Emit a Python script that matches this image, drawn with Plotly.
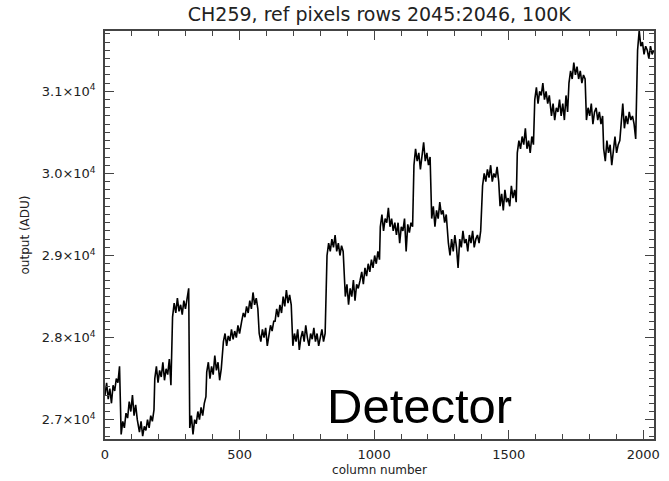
import numpy as np
import plotly.graph_objects as go

# Column readings: each segment = (start column, values sampled every STEP columns)
STEP = 6
seg_starts = [0, 60, 122, 185, 251, 315, 378, 440, 508, 573, 632, 698, 825, 893, 948,
              1023, 1083, 1148, 1214, 1276, 1403, 1468, 1532, 1597, 1659, 1724, 1789,
              1853, 1918, 1979]
seg_values = [
    [27300, 27450, 27250, 27380, 27200, 27420, 27350, 27500, 27450, 27650],
    [26820, 26980, 26900, 27080, 27020, 27220, 27100, 27300, 27050, 27180, 27000],
    [26950, 26850, 26980, 26800, 26920, 26870, 27000, 26900, 27050, 26980, 27120],
    [27500, 27650, 27450, 27600, 27520, 27700, 27480, 27620, 27550, 27740, 27420],
    [28250, 28420, 28300, 28480, 28320, 28400, 28280, 28450, 28350, 28500, 28600],
    [26900, 27050, 26820, 27000, 26950, 27100, 27000, 27150, 27050, 27200, 27280],
    [27580, 27700, 27500, 27650, 27550, 27780, 27600, 27700, 27480, 27620],
    [27950, 28050, 27900, 28020, 27960, 28100, 27980, 28080, 28000, 28150, 28050],
    [28200, 28300, 28250, 28380, 28300, 28450, 28350, 28550, 28400, 28480, 28350],
    [28050, 27950, 28100, 28000, 28120, 27900, 28050, 28150, 28080, 28200],
    [28200, 28350, 28250, 28400, 28300, 28500, 28380, 28580, 28420, 28520, 28400],
    [27900, 28050, 27950, 28100, 27850, 28000, 28080, 27950, 28150, 28000, 27900,
     28050, 27980, 28120, 27950, 28050, 27900, 28000, 28100, 27950, 28050],
    [29000, 29150, 29050, 29200, 29100, 29250, 29050, 29150, 29000, 29120, 29050],
    [28500, 28650, 28400, 28600, 28500, 28700, 28450, 28650, 28600],
    [28700, 28800, 28650, 28850, 28750, 28900, 28800, 28950, 28850, 29000, 28900, 29050, 28950],
    [29350, 29500, 29300, 29450, 29400, 29580, 29350, 29450, 29300, 29400],
    [29250, 29400, 29150, 29350, 29300, 29450, 29050, 29380, 29280, 29400, 29350],
    [30100, 30300, 30150, 30250, 30050, 30200, 30380, 30150, 30250, 30100, 30200],
    [29450, 29600, 29350, 29550, 29450, 29650, 29500, 29550, 29400, 29500],
    [29150, 29000, 29200, 29050, 29250, 29100, 28850, 29200, 29100, 29300, 29150,
     29200, 29050, 29250, 29150, 29300, 29100, 29200, 29250, 29150, 29300],
    [29850, 30000, 29900, 30050, 29950, 30100, 29900, 30000, 29950, 30080, 29900],
    [29600, 29750, 29550, 29800, 29650, 29700, 29600, 29850, 29700, 29800, 29650],
    [30250, 30400, 30300, 30450, 30350, 30550, 30300, 30400, 30250, 30450, 30350],
    [30900, 31050, 30850, 31000, 30950, 31100, 30900, 31000, 30850, 30950],
    [30700, 30850, 30650, 30800, 30750, 30900, 30700, 30850, 30650, 30950, 30750],
    [31100, 31250, 31150, 31350, 31200, 31300, 31150, 31250, 31100, 31200, 31150],
    [30650, 30800, 30700, 30850, 30600, 30750, 30800, 30650, 30750, 30600, 30700],
    [30300, 30150, 30400, 30250, 30350, 30100, 30300, 30450, 30250, 30350, 30400],
    [30600, 30850, 30550, 30700, 30600, 30750, 30650, 30700, 30600, 30420],
    [31500, 31740, 31550, 31600, 31450, 31550, 31500, 31400, 31550, 31450, 31500],
]

y_tick_vals = [27000, 28000, 29000, 30000, 31000]
y_tick_text = ["2.7×10<sup>4</sup>", "2.8×10<sup>4</sup>", "2.9×10<sup>4</sup>",
               "3.0×10<sup>4</sup>", "3.1×10<sup>4</sup>"]
x_tick_vals = [0, 500, 1000, 1500, 2000]

cols, vals = [], []
for s, v in zip(seg_starts, seg_values):
    for i, val in enumerate(v):
        cols.append(s + STEP * i)
        vals.append(val)

FONT = "DejaVu Sans, Liberation Sans, Arial"

fig = go.Figure()
fig.add_trace(go.Scatter(x=cols, y=vals, mode="lines",
                         line=dict(color="black", width=1.6), showlegend=False))

axis_common = dict(showline=True, linecolor="#444", linewidth=1.5, mirror="ticks",
                   ticks="inside", tickcolor="#444", tickwidth=1.2, ticklen=9,
                   showgrid=False, zeroline=False, automargin=False,
                   tickfont=dict(family=FONT, size=13, color="#222"))

fig.update_xaxes(range=[0, 2040], tickvals=x_tick_vals, ticklabelstandoff=3,
                 minor=dict(dtick=100, tick0=0, ticks="inside", ticklen=5,
                            tickcolor="#444", tickwidth=1.1),
                 title=dict(text="column number", standoff=4,
                            font=dict(family=FONT, size=12, color="#222")),
                 **axis_common)
fig.update_yaxes(range=[26765, 31735], tickvals=y_tick_vals, ticktext=y_tick_text,
                 ticklabelstandoff=5,
                 minor=dict(dtick=100, tick0=27000, ticks="inside", ticklen=5,
                            tickcolor="#444", tickwidth=1.1),
                 title=dict(text="output (ADU)", standoff=10,
                            font=dict(family=FONT, size=12, color="#222")),
                 **axis_common)

fig.add_annotation(text="Detector", xref="paper", yref="paper", x=0.572, y=0.08,
                   xanchor="center", yanchor="middle", showarrow=False,
                   font=dict(family="Liberation Sans, Arial", size=49, color="black"))

fig.update_layout(
    width=669, height=481,
    margin=dict(l=105, r=15, t=31, b=42),
    paper_bgcolor="white", plot_bgcolor="white",
    title=dict(text="CH259, ref pixels rows 2045:2046, 100K", x=0.567, xanchor="center",
               y=0.984, yanchor="top",
               font=dict(family=FONT, size=19, color="#222")),
)

fig.write_html("out.html")
